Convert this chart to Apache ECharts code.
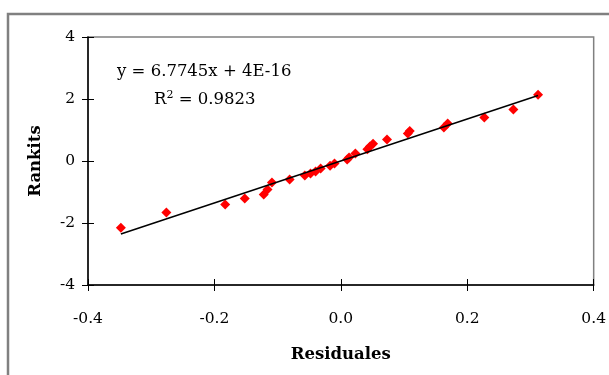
<!DOCTYPE html>
<html>
<head>
<meta charset="utf-8">
<title>Rankits vs Residuales</title>
<script src="https://cdn.jsdelivr.net/npm/echarts@6/dist/echarts.min.js"></script>
<style>
  html, body { margin: 0; padding: 0; background: #ffffff; }
  #chart { width: 609px; height: 375px; }
</style>
</head>
<body>
<div id="chart"></div>
<script>
// Residuals (x) and their normal scores (y)
const residuales = [
  -0.348, -0.276, -0.183, -0.152, -0.122, -0.116, -0.109, -0.081, -0.057, -0.048,
  -0.040, -0.032, -0.017, -0.010, 0.010, 0.013, 0.023, 0.042, 0.046, 0.051,
  0.073, 0.106, 0.109, 0.163, 0.169, 0.227, 0.273, 0.312
];
const rankits = [
  -2.15, -1.66, -1.40, -1.21, -1.08, -0.92, -0.69, -0.60, -0.47, -0.40,
  -0.34, -0.24, -0.15, -0.08, 0.05, 0.11, 0.24, 0.38, 0.47, 0.56,
  0.69, 0.89, 0.97, 1.08, 1.21, 1.40, 1.66, 2.14
];

// Linear trendline as stated in the equation label
const slope = 6.7745;
const intercept = 4e-16;
const rSquared = 0.9823;

// Axis ranges
const xTicks = [-0.4, -0.2, 0.0, 0.2, 0.4];
const yTicks = [-4, -2, 0, 2, 4];

const points = residuales.map((x, i) => [x, rankits[i]]);
const xMinData = Math.min(...residuales);
const xMaxData = Math.max(...residuales);
const trend = [
  [xMinData, slope * xMinData + intercept],
  [xMaxData, slope * xMaxData + intercept]
];

const serif = '"DejaVu Serif", "Liberation Serif", serif';

const chart = echarts.init(document.getElementById('chart'), null, { renderer: 'canvas' });

const baseX = {
  type: 'value',
  min: xTicks[0],
  max: xTicks[xTicks.length - 1],
  interval: 0.2,
  splitLine: { show: false }
};
const baseY = {
  type: 'value',
  min: yTicks[0],
  max: yTicks[yTicks.length - 1],
  interval: 2,
  splitLine: { show: false }
};

chart.setOption({
  animation: false,
  backgroundColor: '#ffffff',
  grid: {
    left: 88, right: 12, top: 37, bottom: 90,
    show: true,
    borderColor: '#808080',
    borderWidth: 1.5,
    backgroundColor: 'transparent'
  },
  xAxis: [
    Object.assign({}, baseX, {
      position: 'bottom',
      name: 'Residuales',
      nameLocation: 'middle',
      nameGap: 61,
      nameTextStyle: { fontFamily: serif, fontWeight: 'bold', fontSize: 16.5, color: '#000' },
      axisLine: { show: true, onZero: false, lineStyle: { color: '#000', width: 1.5 } },
      axisTick: { show: true, inside: false, length: 6, lineStyle: { color: '#000', width: 1 } },
      axisLabel: {
        margin: 26,
        fontFamily: serif, fontSize: 15.5, color: '#000',
        formatter: v => v.toFixed(1)
      }
    }),
    // inner half of the crossing tick marks
    Object.assign({}, baseX, {
      position: 'bottom',
      axisLine: { show: false, onZero: false },
      axisTick: { show: true, inside: true, length: 6, lineStyle: { color: '#000', width: 1 } },
      axisLabel: { show: false }
    })
  ],
  yAxis: [
    Object.assign({}, baseY, {
      position: 'left',
      name: 'Rankits',
      nameLocation: 'middle',
      nameGap: 44,
      nameTextStyle: { fontFamily: serif, fontWeight: 'bold', fontSize: 16.5, color: '#000' },
      axisLine: { show: true, onZero: false, lineStyle: { color: '#000', width: 1.5 } },
      axisTick: { show: true, inside: false, length: 6, lineStyle: { color: '#000', width: 1 } },
      axisLabel: { margin: 13, fontFamily: serif, fontSize: 15.5, color: '#000' }
    }),
    Object.assign({}, baseY, {
      position: 'left',
      axisLine: { show: false, onZero: false },
      axisTick: { show: true, inside: true, length: 6, lineStyle: { color: '#000', width: 1 } },
      axisLabel: { show: false }
    })
  ],
  series: [
    {
      name: 'Rankits',
      type: 'scatter',
      xAxisIndex: 0,
      yAxisIndex: 0,
      data: points,
      symbol: 'diamond',
      symbolSize: [10, 10],
      itemStyle: { color: '#ff0000', opacity: 1 },
      z: 2
    },
    {
      name: 'Tendencia',
      type: 'line',
      xAxisIndex: 0,
      yAxisIndex: 0,
      data: trend,
      symbol: 'none',
      lineStyle: { color: '#000', width: 1.5 },
      z: 3
    }
  ],
  graphic: [
    {
      // outer chart-area frame
      type: 'rect',
      shape: { x: 8, y: 14, width: 640, height: 400 },
      style: { fill: 'none', stroke: '#808080', lineWidth: 2.5 },
      silent: true
    },
    {
      type: 'text',
      left: 117,
      top: 63,
      style: {
        text: 'y = ' + slope.toFixed(4) + 'x + 4E-16',
        fontFamily: serif, fontSize: 16.5, fill: '#000'
      }
    },
    {
      type: 'text',
      left: 154,
      top: 90,
      style: {
        text: 'R{sup|2} = ' + rSquared.toFixed(4),
        fontFamily: serif, fontSize: 16.5, fill: '#000',
        rich: {
          sup: { fontFamily: serif, fontSize: 11, verticalAlign: 'top', padding: [0, 0, 9, 0] }
        }
      }
    }
  ]
});
</script>
</body>
</html>
